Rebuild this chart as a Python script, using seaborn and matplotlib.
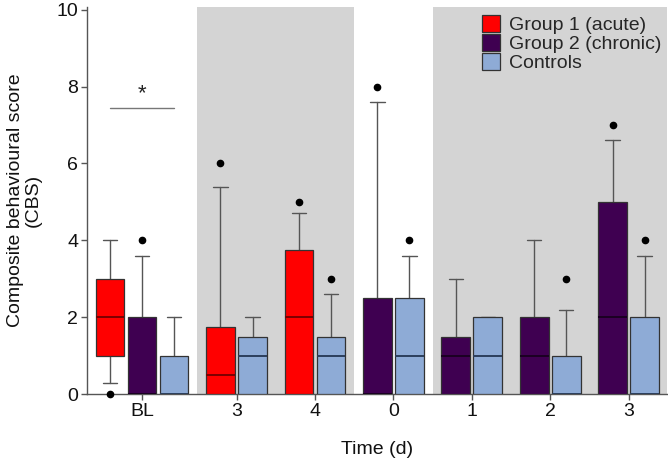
import numpy as np
import matplotlib
matplotlib.use("Agg")
import matplotlib.pyplot as plt
import matplotlib.patches as mpatches
import seaborn as sns

# Time points (x groups)
time_labels = ["BL", "3", "4", "0", "1", "2", "3"]

# One entry per box: which time point and which series
box_group = [0, 0, 0, 1, 1, 2, 2, 3, 3, 4, 4, 5, 5, 6, 6]
box_series = ["Group 1 (acute)", "Group 2 (chronic)", "Controls",
              "Group 1 (acute)", "Controls",
              "Group 1 (acute)", "Controls",
              "Group 2 (chronic)", "Controls",
              "Group 2 (chronic)", "Controls",
              "Group 2 (chronic)", "Controls",
              "Group 2 (chronic)", "Controls"]

# Box statistics (CBS)
whis_low = [0.3, 0, 0, 0, 0, 0, 0, 0, 0, 0, 0, 0, 0, 0, 0]
q1 = [1, 0, 0, 0, 0, 0, 0, 0, 0, 0, 0, 0, 0, 0, 0]
median = [2, 0, 0, 0.5, 1, 2, 1, 0, 1, 1, 1, 1, 0, 2, 0]
q3 = [3, 2, 1, 1.75, 1.5, 3.75, 1.5, 2.5, 2.5, 1.5, 2, 2, 1, 5, 2]
whis_high = [4, 3.6, 2, 5.4, 2, 4.7, 2.6, 7.6, 3.6, 3, 2, 4, 2.2, 6.6, 3.6]
outliers = [[0], [4], [], [6], [], [5], [3], [8], [4], [], [], [], [3], [7], [4]]

# Shaded time-point blocks
shaded_groups = [[1, 2], [4, 5, 6]]

series_colors = {
    "Group 1 (acute)": "#ff0000",
    "Group 2 (chronic)": "#3f0051",
    "Controls": "#8eabd6",
}
median_colors = {
    "Group 1 (acute)": "#7a0000",
    "Group 2 (chronic)": "#1a0022",
    "Controls": "#2c3f5c",
}

sns.set_style("ticks")
plt.rcParams["font.family"] = ["Liberation Sans", "DejaVu Sans"]

# box positions: step 1 within a time point, wider step between time points
positions = []
x = 0.0
for i, g in enumerate(box_group):
    if i > 0:
        x += 1.0 if g == box_group[i - 1] else 1.45
    positions.append(x)
positions = np.array(positions)
box_group = np.array(box_group)
tick_pos = [positions[box_group == g].mean() for g in range(len(time_labels))]

fig = plt.figure(figsize=(6.68, 4.58), dpi=100)
ax = fig.add_axes([0.1298, 0.139, 0.8687, 0.846])

x_left = positions[0] - 0.73
x_right = positions[-1] + 0.7

# grey background blocks
for block in shaded_groups:
    first = positions[box_group == block[0]][0]
    last = positions[box_group == block[-1]][-1]
    prev_last = positions[box_group == block[0] - 1][-1]
    lo = (prev_last + first) / 2
    if block[-1] + 1 < len(time_labels):
        hi = (last + positions[box_group == block[-1] + 1][0]) / 2
    else:
        hi = x_right
    ax.axvspan(lo, hi, color="#d4d4d4", lw=0, zorder=0)

stats = []
for i in range(len(positions)):
    stats.append(dict(whislo=whis_low[i], q1=q1[i], med=median[i], q3=q3[i],
                      whishi=whis_high[i], fliers=outliers[i]))

res = ax.bxp(stats, positions=positions, widths=0.9, patch_artist=True,
             showfliers=True, manage_ticks=False,
             boxprops=dict(edgecolor="#333333", linewidth=0.9),
             whiskerprops=dict(color="#555555", linewidth=1.0),
             capprops=dict(color="#555555", linewidth=1.0),
             medianprops=dict(linewidth=1.4),
             flierprops=dict(marker="o", markerfacecolor="black",
                             markeredgecolor="black", markersize=4.5))
for i, box in enumerate(res["boxes"]):
    box.set_facecolor(series_colors[box_series[i]])
    box.set_zorder(3)
    res["medians"][i].set_color(median_colors[box_series[i]])
    res["medians"][i].set_zorder(4)
for art in res["whiskers"] + res["caps"]:
    art.set_zorder(2)
for art in res["fliers"]:
    art.set_zorder(5)
    art.set_clip_on(False)

# significance bar at baseline
ax.plot([positions[0], positions[2]], [7.45, 7.45], color="#777777", lw=1.0, zorder=2)
ax.text(positions[1], 7.55, "*", ha="center", va="bottom", fontsize=16, color="#222222")

ax.set_xlim(x_left, x_right)
ax.set_ylim(0, 10.07)
ax.set_yticks([0, 2, 4, 6, 8, 10])
ax.set_xticks(tick_pos)
ax.set_xticklabels(time_labels)
ax.tick_params(axis="both", labelsize=14, color="#555555", length=4, width=1,
               labelcolor="#111111", pad=2)
ax.set_xlabel("Time (d)", fontsize=14, labelpad=15, color="#111111")
ax.set_ylabel("Composite behavioural score\n(CBS)", fontsize=14, labelpad=11,
              color="#111111", linespacing=1.05)
sns.despine(ax=ax)
for side in ["left", "bottom"]:
    ax.spines[side].set_color("#555555")
    ax.spines[side].set_linewidth(1.0)

handles = [mpatches.Patch(facecolor=series_colors[s], edgecolor="#333333", lw=0.9, label=s)
           for s in series_colors]
ax.legend(handles=handles, loc="upper right", bbox_to_anchor=(1.009, 1.006),
          frameon=False, fontsize=14, handlelength=0.95, handleheight=0.95,
          handletextpad=0.45, labelspacing=0.0, borderaxespad=0.15)

fig.savefig("out.png", dpi=100)
